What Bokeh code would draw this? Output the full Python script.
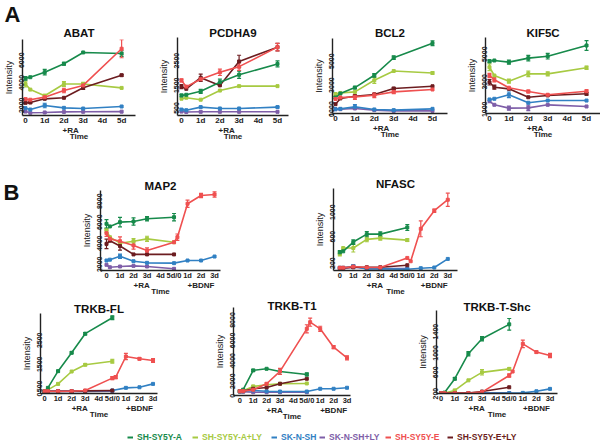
import math
from bokeh.plotting import figure
from bokeh.models import (Range1d, FixedTicker, LinearAxis, Title, Whisker, TeeHead,
                          ColumnDataSource, Legend, LegendItem)
from bokeh.layouts import row, column
from bokeh.embed import file_html
from bokeh.resources import INLINE
from bokeh.core.properties import value

FONT = "Liberation Sans"

# ---------------- data ----------------
SERIES = ["A", "ALY", "SK", "SKLY", "E", "ELY"]
SERIES_NAMES = ["SH-SY5Y-A", "SH-SY5Y-A+LY", "SK-N-SH", "SK-N-SH+LY", "SH-SY5Y-E", "SH-SY5Y-E+LY"]
COLORS = ["#178a4b", "#a7ca42", "#3180c3", "#7e5ea8", "#ef5050", "#6c1d20"]
DRAW_ORDER = ["SKLY", "SK", "ALY", "ELY", "A", "E"]

T_RA = [0, 0.25, 1, 2, 3, 5]          # RA time points (days)
T_E_BDNF = [5.25, 6, 7, 8]            # extra SH-SY5Y-E points in BDNF phase
T_SK_BDNF = [6, 7, 8]                 # extra SK-N-SH points in BDNF phase

X_TICKS_A = [0, 1, 2, 3, 4, 5]
X_LABELS_A = ["0", "1d", "2d", "3d", "4d", "5d"]
X_TICKS_B = [0, 1, 2, 3, 4, 5, 6, 7, 8]
X_LABELS_B = ["0", "1d", "2d", "3d", "4d", "5d/0", "1d", "2d", "3d"]
SUB_TICKS_A = [2.35]
SUB_LABELS_A = ["+RA"]
SUB_TICKS_B = [2.6, 7.0]
SUB_LABELS_B = ["+RA", "+BDNF"]

ABAT_Y = {"A": [3700, 3800, 4250, 5000, 6000, 5900],
          "ALY": [3200, 2700, 2150, 3200, 3200, 2850],
          "SK": [1050, 930, 1290, 1080, 1020, 1200],
          "SKLY": [750, 640, 670, 720, 730, 740],
          "E": [1850, 1800, 2030, 2620, 3070, 6330],
          "ELY": [1530, 1550, 1880, 1970, 2860, 3980]}
ABAT_ERR = {"A": [150, 0, 250, 120, 0, 250],
            "ALY": [250, 0, 120, 220, 150, 0],
            "E": [100, 0, 150, 200, 150, 800],
            "ELY": [80, 80, 0, 0, 150, 80],
            "SK": [0, 0, 200, 0, 0, 0]}

PCDHA9_Y = {"A": [770, 800, 940, 1310, 1610, 2050],
            "ALY": [640, 680, 600, 970, 1150, 1150],
            "SK": [200, 175, 300, 245, 245, 300],
            "SKLY": [120, 100, 110, 110, 110, 110],
            "E": [1380, 1130, 1430, 1710, 1940, 2730],
            "ELY": [1130, 1040, 1490, 1180, 2150, 2730]}
PCDHA9_ERR = {"A": [60, 0, 80, 120, 150, 120],
              "E": [60, 0, 0, 130, 150, 150],
              "ELY": [80, 0, 150, 0, 250, 150],
              "SK": [30, 0, 0, 0, 0, 30]}

BCL2_Y = {"A": [1310, 1640, 2140, 3170, 4640, 5860],
          "ALY": [1560, 1690, 1780, 2750, 3530, 3360],
          "SK": [330, 360, 525, 310, 250, 360],
          "SKLY": [330, 330, 390, 250, 190, 190],
          "E": [1190, 1310, 1360, 1500, 1780, 1980],
          "ELY": [750, 1230, 1420, 1560, 2060, 2250]}
BCL2_ERR = {"A": [100, 0, 100, 150, 150, 200],
            "ALY": [150, 0, 0, 250, 0, 100],
            "E": [0, 0, 200, 200, 150, 0],
            "ELY": [0, 0, 100, 0, 100, 0],
            "SK": [0, 0, 200, 0, 0, 0]}

KIF5C_Y = {"A": [3930, 3980, 3860, 4150, 4290, 5070],
           "ALY": [3490, 2890, 2480, 3010, 3010, 3450],
           "SK": [1150, 1200, 1490, 910, 1070, 1070],
           "SKLY": [1020, 760, 520, 540, 760, 640],
           "E": [2890, 2580, 2000, 1730, 1490, 1750],
           "ELY": [2400, 2040, 1920, 1310, 1440, 1560]}
KIF5C_ERR = {"A": [100, 0, 150, 200, 200, 350],
             "ALY": [250, 0, 150, 200, 150, 120],
             "E": [150, 150, 0, 100, 0, 100],
             "ELY": [200, 150, 0, 0, 0, 100],
             "SK": [0, 0, 200, 0, 0, 0],
             "SKLY": [0, 0, 150, 200, 0, 0]}

MAP2_Y = {"A": [5110, 4860, 5270, 5330, 5590, 5740],
          "ALY": [4480, 3840, 3270, 3460, 3680, 3360],
          "SK": [1620, 1700, 2030, 1550, 1400, 1370, 1620, 1620, 2000],
          "SKLY": [1210, 980, 1050, 1110, 1050, 830],
          "E": [4220, 3680, 3460, 3050, 2570, 3360, 3840, 7020, 7800, 7900],
          "ELY": [3200, 3500, 3000, 2200, 2200, 2200]}
MAP2_ERR = {"A": [400, 0, 450, 350, 200, 350],
            "ALY": [200, 0, 0, 250, 250, 0],
            "E": [300, 0, 400, 350, 250, 0, 300, 350, 200, 250],
            "ELY": [450, 0, 400, 0, 0, 0],
            "SK": [0, 0, 200, 0, 0, 0, 0, 0, 0]}

NFASC_Y = {"A": [275, 290, 430, 550, 550, 650],
           "ALY": [250, 340, 340, 470, 490, 460],
           "SK": [40, 40, 65, 25, 25, 20, 35, 45, 175],
           "SKLY": [30, 30, 50, 30, 30, 30],
           "E": [40, 40, 60, 45, 45, 190, 140, 630, 905, 1070],
           "ELY": [40, 40, 50, 50, 50, 80]}
NFASC_ERR = {"A": [25, 0, 35, 40, 35, 45],
             "ALY": [30, 0, 60, 35, 30, 20],
             "E": [0, 0, 0, 0, 0, 0, 0, 120, 25, 100],
             "SK": [0, 0, 25, 0, 0, 0, 0, 0, 0]}

TRKBFL_Y = {"A": [55, 195, 890, 1655, 2450, 3115],
            "ALY": [55, 110, 360, 875, 1155, 1305],
            "SK": [55, 55, 60, 55, 60, 85, 195, 220, 360],
            "SKLY": [50, 50, 50, 50, 50, 60],
            "E": [55, 55, 55, 55, 85, 600, 640, 1500, 1405, 1335],
            "ELY": [50, 50, 50, 55, 70, 85]}
TRKBFL_ERR = {"A": [0, 0, 30, 40, 50, 80],
              "ALY": [0, 0, 30, 0, 40, 80],
              "E": [0, 0, 0, 0, 0, 60, 60, 130, 50, 80]}

TRKBT1_Y = {"A": [255, 400, 2290, 2450, 2190, 1890],
            "ALY": [255, 300, 720, 880, 980, 1010],
            "SK": [255, 250, 320, 250, 220, 220, 490, 490, 590],
            "SKLY": [200, 200, 150, 150, 150, 150],
            "E": [255, 260, 390, 980, 2190, 6370, 7020, 6370, 4570, 3530],
            "ELY": [255, 260, 490, 620, 980, 1470]}
TRKBT1_ERR = {"A": [0, 0, 100, 0, 100, 150],
              "ALY": [0, 0, 100, 0, 0, 0],
              "E": [0, 0, 0, 100, 300, 400, 400, 250, 150, 200]}

TRKBSHC_Y = {"A": [100, 110, 370, 840, 1120, 1390],
             "ALY": [100, 100, 150, 340, 490, 555],
             "SK": [100, 100, 100, 100, 100, 100, 105, 135, 180],
             "SKLY": [100, 100, 100, 100, 100, 100],
             "E": [100, 100, 100, 100, 120, 430, 505, 1025, 870, 805],
             "ELY": [100, 100, 100, 100, 130, 210]}
TRKBSHC_ERR = {"A": [0, 0, 20, 40, 40, 110],
               "ALY": [0, 0, 20, 0, 50, 20],
               "E": [0, 0, 0, 0, 0, 30, 0, 70, 20, 40]}

COLOR_OF = dict(zip(SERIES, COLORS))


def times_for(n):
    if n == 6:
        return T_RA
    if n == 10:
        return T_RA + T_E_BDNF
    return T_RA + T_SK_BDNF


def make_panel(title, ydata, yerr, phase_b, xr, yr, yticks, geom, title_standoff):
    L, fw, R, T, fh, B = geom
    p = figure(width=L + fw + R, height=T + fh + B, title=None,
               x_range=Range1d(*xr), y_range=Range1d(*yr),
               output_backend="svg", toolbar_location=None, frame_align=False,
               min_border_left=L, min_border_right=R, min_border_top=T, min_border_bottom=B)
    p.outline_line_color = None
    p.xgrid.visible = False
    p.ygrid.visible = False
    p.background_fill_color = "white"
    p.border_fill_color = "white"

    p.add_layout(Title(text=title, align="center", standoff=title_standoff, text_font=FONT,
                       text_font_style="bold", text_font_size="11.5px", text_color="#111111"),
                 "above")

    xt = X_TICKS_B if phase_b else X_TICKS_A
    xl = X_LABELS_B if phase_b else X_LABELS_A
    tick_fs = "7.5px" if phase_b else "8px"
    xa = p.xaxis[0]
    xa.ticker = FixedTicker(ticks=xt)
    xa.major_label_overrides = {t: l for t, l in zip(xt, xl)}
    xa.major_tick_out = 0
    xa.major_tick_in = 0
    xa.minor_tick_out = 0
    xa.minor_tick_in = 0
    xa.major_tick_line_color = None
    xa.minor_tick_line_color = None
    xa.axis_line_width = 1.4
    xa.axis_line_color = "#222222"
    xa.major_label_standoff = 0
    xa.major_label_text_font = FONT
    xa.major_label_text_font_style = "bold"
    xa.major_label_text_font_size = tick_fs
    xa.major_label_text_color = "#222222"

    st = SUB_TICKS_B if phase_b else SUB_TICKS_A
    sl = SUB_LABELS_B if phase_b else SUB_LABELS_A
    xa2 = LinearAxis(ticker=FixedTicker(ticks=st),
                     major_label_overrides={t: l for t, l in zip(st, sl)},
                     axis_line_color=None, major_tick_line_color=None, minor_tick_line_color=None,
                     major_tick_out=0, major_tick_in=0, minor_tick_out=0, minor_tick_in=0,
                     major_label_standoff=-2,
                     major_label_text_font=FONT, major_label_text_font_style="bold",
                     major_label_text_font_size="8px", major_label_text_color="#222222",
                     axis_label="Time", axis_label_standoff=-6,
                     axis_label_text_font=FONT, axis_label_text_font_style="bold",
                     axis_label_text_font_size="8px", axis_label_text_color="#222222")
    p.add_layout(xa2, "below")

    ya = p.yaxis[0]
    ya.ticker = FixedTicker(ticks=yticks)
    ya.major_label_orientation = math.pi / 2
    ya.major_tick_out = 0
    ya.major_tick_in = 0
    ya.minor_tick_out = 0
    ya.minor_tick_in = 0
    ya.major_tick_line_color = None
    ya.minor_tick_line_color = None
    ya.axis_line_width = 1.4
    ya.axis_line_color = "#222222"
    ya.major_label_standoff = 1
    ya.major_label_text_font = FONT
    ya.major_label_text_font_style = "bold"
    ya.major_label_text_font_size = "7px"
    ya.major_label_text_color = "#222222"
    ya.axis_label = "Intensity"
    ya.axis_label_standoff = 0
    ya.axis_label_text_font = FONT
    ya.axis_label_text_font_style = "normal"
    ya.axis_label_text_font_size = "9px"
    ya.axis_label_text_color = "#222222"

    for key in DRAW_ORDER:
        ys = ydata[key]
        xs = times_for(len(ys))
        c = COLOR_OF[key]
        p.line(xs, ys, line_color=c, line_width=1.6)
        p.scatter(xs, ys, size=3, marker="square", color=c)
        if key in yerr:
            es = yerr[key]
            sel = [i for i, e in enumerate(es) if e > 0]
            src = ColumnDataSource(dict(x=[xs[i] for i in sel],
                                        lo=[ys[i] - es[i] for i in sel],
                                        hi=[ys[i] + es[i] for i in sel]))
            p.add_layout(Whisker(base="x", lower="lo", upper="hi", source=src,
                                 line_color=c, line_width=1.2,
                                 upper_head=TeeHead(size=4, line_color=c, line_width=1.2),
                                 lower_head=TeeHead(size=4, line_color=c, line_width=1.2)))
    return p


# geometry: (left border, frame width, right border, top border, frame height, bottom border)
abat = make_panel("ABAT", ABAT_Y, ABAT_ERR, False, (-0.155, 5.722), (400, 7150),
                  [2000, 4000, 6000], (21, 114, 17, 39, 76, 31), 2)
pcdha9 = make_panel("PCDHA9", PCDHA9_Y, PCDHA9_ERR, False, (-0.208, 5.573), (-40, 3120),
                    [500, 1500, 2500], (25, 111, 19, 37, 78, 31), -3)
bcl2 = make_panel("BCL2", BCL2_Y, BCL2_ERR, False, (-0.155, 5.773), (-30, 6250),
                  [0, 1000, 3000, 5000], (25, 115, 13, 38, 75, 33), -1)
kif5c = make_panel("KIF5C", KIF5C_Y, KIF5C_ERR, False, (-0.206, 5.72), (130, 5650),
                   [1000, 3000, 5000], (25, 115, 0, 37, 76, 33), -2)

# panel letter A stacked above the ABAT title
abat.add_layout(Title(text="A", align="left", offset=-18, standoff=-7, text_font=FONT,
                      text_font_style="bold", text_font_size="22px", text_color="#111111"),
                "above")

map2 = make_panel("MAP2", MAP2_Y, MAP2_ERR, True, (-0.444, 8.44), (670, 8280),
                  [2000, 4000, 6000, 8000], (70, 120, 88, 44, 80, 30), -2)
nfasc = make_panel("NFASC", NFASC_Y, NFASC_ERR, True, (-0.467, 8.72), (0, 1240),
                   [200, 600, 1000], (25, 124, 143, 42, 82, 30), -3)

trkbfl = make_panel("TRKB-FL", TRKBFL_Y, TRKBFL_ERR, True, (-0.295, 8.33), (-40, 3290),
                    [0, 500, 1500, 2500], (40, 117, 51, 13, 80, 32), -2)
trkbt1 = make_panel("TRKB-T1", TRKBT1_Y, TRKBT1_ERR, True, (-0.47, 8.26), (-170, 8460),
                    [0, 2000, 4000, 6000, 8000], (25, 117, 61, 7, 88, 30), -8)
trkbshc = make_panel("TRKB-T-Shc", TRKBSHC_Y, TRKBSHC_ERR, True, (-0.346, 8.55), (93, 1650),
                     [200, 600, 1000, 1400], (25, 121, 43, 10, 83, 32), -5)

# panel letter B in its own narrow strip
bfig = figure(width=30, height=154, x_range=Range1d(0, 30), y_range=Range1d(0, 154),
              output_backend="svg", toolbar_location=None, min_border=0, frame_align=False,
              x_axis_location=None, y_axis_location=None)
bfig.outline_line_color = None
bfig.xgrid.visible = False
bfig.ygrid.visible = False
bfig.text(x=[3], y=[108], text=["B"], text_font=value(FONT), text_font_style="bold",
          text_font_size="22px", text_color="#111111", text_baseline="alphabetic")

# legend strip
leg = figure(width=600, height=20, x_range=Range1d(0, 1), y_range=Range1d(0, 1),
             output_backend="svg", toolbar_location=None, min_border=0, frame_align=False,
             x_axis_location=None, y_axis_location=None)
leg.outline_line_color = None
leg.xgrid.visible = False
leg.ygrid.visible = False
LEG_X = [127, 192, 271, 319, 385, 447]
for name, c, lx in zip(SERIES_NAMES, COLORS, LEG_X):
    r = leg.line([-5, -4], [-5, -5], line_color=c, line_width=2)
    lg = Legend(items=[LegendItem(label=name, renderers=[r])], location=(lx, 3),
                orientation="horizontal", padding=0, margin=0, spacing=0,
                glyph_width=6, glyph_height=8, label_standoff=4, label_height=8, label_width=10,
                border_line_color=None, background_fill_alpha=0,
                label_text_color=c, label_text_font=FONT, label_text_font_style="bold",
                label_text_font_size="8.5px", label_text_baseline="middle")
    leg.add_layout(lg)

layout = column(row(abat, pcdha9, bcl2, kif5c),
                row(bfig, map2, nfasc),
                row(trkbfl, trkbt1, trkbshc),
                leg)

open("out.html", "w").write(file_html(layout, INLINE))
